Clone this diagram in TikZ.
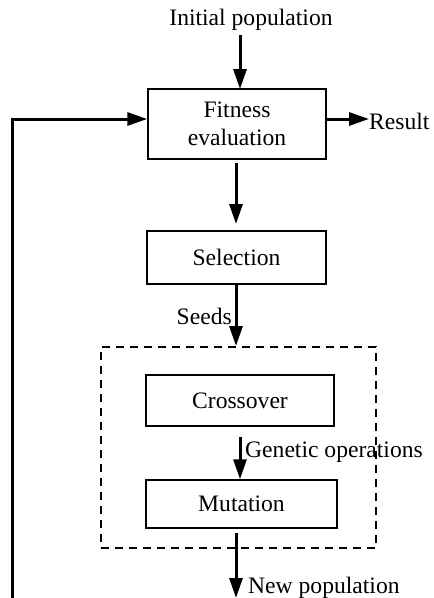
\documentclass[tikz,border=0pt]{standalone}
\usepackage{fontspec}
\setmainfont{Liberation Serif}
\usetikzlibrary{arrows.meta}
\begin{document}
\begin{tikzpicture}[x=1pt,y=-1pt,
  every node/.style={font=\fontsize{23.6}{28}\selectfont},
  box/.style={draw,line width=1.5pt,inner sep=0pt,align=center},
  arr/.style={line width=3pt,-{Triangle[length=20pt,width=13pt]}},
  lbl/.style={inner sep=0pt}]
\useasboundingbox (0,0) rectangle (434,598);
\node[lbl] (init) at (251,20) {Initial population};
\node[box,minimum width=178pt,minimum height=70pt] (fit) at (237,124) {Fitness\\evaluation};
\node[box,minimum width=179pt,minimum height=53pt] (sel) at (236.5,257.5) {Selection};
\node[draw,dashed,dash pattern=on 8pt off 6pt,line width=1.5pt,minimum width=275pt,minimum height=201pt,inner sep=0pt] (ops) at (238.5,447.5) {};
\node[box,minimum width=188pt,minimum height=51pt] (cross) at (240,400.5) {Crossover};
\node[box,minimum width=191pt,minimum height=48pt] (mut) at (241.5,504) {Mutation};
\node[lbl,anchor=west] (res) at (369,121) {Result};
\node[lbl,anchor=east] (seeds) at (232,316) {Seeds};
\node[lbl,anchor=west] (gen) at (245,452) {Genetic operations};
\node[lbl,anchor=west] (newp) at (248,588) {New population};
\coordinate (fb) at (12,598);
\coordinate (out) at (236,598);
\draw[arr] (240,35) -- (240,89);
\draw[arr] ([yshift=5pt]fit.east) -- ([yshift=5pt]fit.east -| res.west);
\draw[arr] (fb) |- ([yshift=5pt]fit.west);
\draw[arr] (236,163) -- (236,224);
\draw[arr] (sel.south -| 236,0) -- (236,346);
\draw[arr] (240,437) -- (mut.north -| 240,0);
\draw[arr] (236,533) -- (out);
\end{tikzpicture}
\end{document}
